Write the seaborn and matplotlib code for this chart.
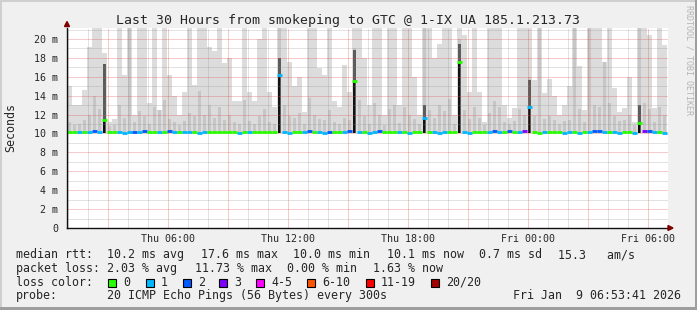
import numpy as np
import matplotlib
matplotlib.use("Agg")
import matplotlib.pyplot as plt
import seaborn as sns
from matplotlib.patches import Rectangle, Polygon
from matplotlib.collections import LineCollection

# ---------------- data ----------------
F = 25.0  # smoke going off the top of the chart
start_hour = 0.95      # Thu 00:57
step_hours = 0.25      # one column = 15 minutes

smoke_max = [
    15.0, 13.0, 13.0, 14.6, 19.2, F, F, 18.5, 11.2, 11.5,
    F, 16.2, F, 12.0, F, F, 13.2, F, 12.5, F,
    16.2, 14.0, 12.0, 14.4, F, 15.1, F, F, 19.2, 18.7,
    F, 17.5, 18.0, 13.4, 13.4, F, 14.4, 13.4, 20.0, F,
    14.4, 12.8, F, F, 17.6, 15.0, 16.0, 12.3, F, F,
    16.9, 16.2, F, 13.4, 12.8, 17.2, 14.4, F, F, 18.0,
    13.0, F, F, 12.0, F, F, 13.0, F, F, 16.0,
    12.0, F, F, 18.0, 19.5, F, F, 12.0, F, 20.4,
    14.4, F, 14.4, 11.2, F, F, F, 13.0, 11.6, 12.7,
    F, F, F, 15.7, F, 14.3, 15.8, 14.0, 12.0, 13.0,
    15.0, F, 17.1, 12.5, F, F, F, 17.6, F, 14.8,
    12.3, 12.7, 16.0, 11.2, F, F, 20.4, 12.7, F, 19.4,
]

smoke_mid = [
    11.2, 10.9, 11.0, 11.4, 12.0, 14.0, 12.6, 16.0, 10.8, 10.9,
    13.0, 11.6, F, 11.2, 12.4, 11.8, 11.0, 12.8, 12.5, 13.5,
    11.5, 11.2, 10.9, 11.3, 12.2, 11.8, 14.5, 12.0, 13.0, 11.6,
    12.8, 11.4, 12.0, 11.2, 11.0, 13.5, 11.3, 11.0, 11.8, 12.6,
    11.2, 11.0, F, 13.0, 11.8, 11.6, 12.2, 11.0, 13.8, 12.0,
    11.5, 11.4, 12.5, 11.2, 11.0, 11.6, 11.4, 19.0, 13.5, 11.8,
    11.0, 13.2, 12.0, 10.9, 12.6, 13.0, 11.1, 12.8, 12.0, 11.5,
    11.0, F, 12.5, 11.6, 13.0, 12.4, 13.6, 11.0, 20.0, 12.5,
    11.5, 12.8, 11.6, 10.9, 12.2, 13.4, 12.8, 11.2, 11.0, 11.3,
    12.6, 12.0, 16.0, 11.8, F, 11.5, 11.8, 11.4, 11.0, 11.3,
    11.4, F, 12.6, 11.2, F, 13.0, 12.8, 17.6, 13.2, 11.8,
    11.3, 11.4, 12.0, 10.9, F, 13.2, 12.6, 11.2, 12.8, 12.0,
]

median_rtt = [
    10.2, 10.2, 10.2, 10.2, 10.2, 10.3, 10.2, 11.4, 10.2, 10.2,
    10.2, 10.1, 10.2, 10.2, 10.2, 10.3, 10.2, 10.2, 10.2, 10.2,
    10.3, 10.2, 10.2, 10.2, 10.2, 10.2, 10.1, 10.2, 10.2, 10.2,
    10.2, 10.2, 10.2, 10.2, 10.1, 10.2, 10.2, 10.2, 10.2, 10.2,
    10.2, 10.2, 16.2, 10.2, 10.1, 10.2, 10.2, 10.2, 10.3, 10.2,
    10.2, 10.1, 10.2, 10.2, 10.2, 10.2, 10.3, 15.6, 10.2, 10.2,
    10.1, 10.2, 10.3, 10.2, 10.2, 10.2, 10.2, 10.2, 10.1, 10.2,
    10.2, 11.6, 10.2, 10.2, 10.1, 10.2, 10.2, 10.2, 17.6, 10.2,
    10.1, 10.2, 10.2, 10.2, 10.2, 10.3, 10.2, 10.2, 10.3, 10.2,
    10.2, 10.3, 12.8, 10.2, 10.1, 10.2, 10.2, 10.2, 10.2, 10.1,
    10.2, 10.2, 10.1, 10.2, 10.2, 10.3, 10.3, 10.2, 10.2, 10.2,
    10.1, 10.2, 10.2, 10.1, 11.1, 10.3, 10.3, 10.2, 10.2, 10.1,
]

loss_cat = [
    0, 0, 1, 0, 1, 2, 1, 0, 0, 0,
    1, 1, 1, 2, 1, 2, 0, 0, 1, 0,
    2, 1, 0, 1, 1, 0, 1, 1, 0, 0,
    0, 0, 0, 0, 1, 0, 1, 0, 0, 0,
    0, 0, 1, 1, 1, 0, 0, 1, 2, 0,
    1, 1, 2, 0, 0, 1, 2, 0, 1, 0,
    1, 1, 2, 0, 0, 0, 1, 0, 1, 0,
    0, 1, 0, 1, 1, 1, 0, 0, 0, 1,
    1, 0, 0, 0, 1, 2, 1, 0, 2, 0,
    1, 3, 1, 0, 0, 1, 0, 0, 0, 1,
    1, 0, 1, 0, 1, 2, 2, 1, 0, 1,
    1, 0, 0, 1, 0, 3, 2, 1, 0, 1,
]

spike_cols = [7, 42, 57, 71, 78, 92, 114]
spike_dark_top = [17.4, 18.0, 18.8, 13.0, 19.5, 15.7, 13.0]

loss_labels = ["0", "1", "2", "3", "4-5", "6-10", "11-19", "20/20"]
loss_colors = ["#26ff00", "#00b8ff", "#0059ff", "#7e00ff",
               "#ff00ff", "#ff5500", "#ff0000", "#a10000"]

xtick_hours = [6, 12, 18, 24, 30]
xtick_labels = ["Thu 06:00", "Thu 12:00", "Thu 18:00", "Fri 00:00", "Fri 06:00"]
ytick_vals = [0, 2, 4, 6, 8, 10, 12, 14, 16, 18, 20]
ytick_labels = ["0", "2 m", "4 m", "6 m", "8 m", "10 m", "12 m", "14 m",
                "16 m", "18 m", "20 m"]

title = "Last 30 Hours from smokeping to GTC @ 1-IX UA 185.1.213.73"
legend_rows = [
    [("median rtt:", 16), ("10.2 ms avg", 107.3), ("17.6 ms max", 200.7),
     ("10.0 ms min", 293.3), ("10.1 ms now", 386.7), ("0.7 ms sd", 479.3),
     ("15.3   am/s", 558.3)],
    [("packet loss:", 16), ("2.03 % avg", 107.3), ("11.73 % max", 195.0),
     ("0.00 % min", 287.0), ("1.63 % now", 373.3)],
    [("loss color:", 16)],
    [("probe:", 16), ("20 ICMP Echo Pings (56 Bytes) every 300s", 107.3)],
]
timestamp = "Fri Jan  9 06:53:41 2026"

# ---------------- figure ----------------
W, H = 697, 310
sns.set_theme(style="white")
plt.rcParams['font.family'] = ['DejaVu Sans Mono', 'DejaVu Sans']

fig = plt.figure(figsize=(W / 100, H / 100), dpi=100, facecolor="#f0f0f0")

def fx(x):
    return x / W

def fy(y):
    return 1 - y / H

ax_left, ax_right, ax_top, ax_bot = 67, 668, 28, 228
ax = fig.add_axes([fx(ax_left), fy(ax_bot), (ax_right - ax_left) / W,
                   (ax_bot - ax_top) / H])
ax.set_facecolor("white")

n = len(smoke_max)
t = start_hour + step_hours * np.arange(n)
smoke_max = np.array(smoke_max)
smoke_mid = np.array(smoke_mid)
median_rtt = np.array(median_rtt)
base = 10.0

ax.bar(t, smoke_max - base, bottom=base, width=step_hours, align="edge",
       color="#dcdcdc", linewidth=0, zorder=1)
ax.bar(t + 0.04, smoke_mid - base, bottom=base, width=step_hours - 0.08,
       align="edge", color="#c6c6c6", linewidth=0, zorder=2)
sc = np.array(spike_cols)
ax.bar(t[sc] + 0.04, np.array(spike_dark_top) - base, bottom=base,
       width=step_hours - 0.1, align="edge", color="#5c5c5c", linewidth=0,
       zorder=3)
ax.bar(t[sc] + 0.07, median_rtt[sc] - base, bottom=base,
       width=step_hours - 0.15, align="edge", color="#111111", linewidth=0,
       zorder=4)

# grid (drawn over the smoke, like rrdtool)
for h in range(1, 32):
    major = (h % 3 == 0)
    ax.axvline(h, color="#de5050" if major else "#8f8f8f",
               alpha=0.6 if major else 0.5, lw=0.72, ls=(0, (1, 1)), zorder=5)
for v in range(1, 22):
    major = (v % 2 == 0)
    ax.axhline(v, color="#de5050" if major else "#8f8f8f",
               alpha=0.6 if major else 0.5, lw=0.72, ls=(0, (1, 1)), zorder=5)

# median line, coloured by loss
segs = [[(t[k], median_rtt[k]), (t[k] + step_hours, median_rtt[k])] for k in range(n)]
cols = [loss_colors[c] for c in loss_cat]
ax.add_collection(LineCollection(segs, colors=cols, linewidths=2.0,
                                 capstyle="butt", zorder=6))

ax.set_xlim(0.95, 31.0)
ax.set_ylim(0, 21.16)
ax.set_xticks(xtick_hours, xtick_labels)
ax.set_xticks(range(1, 31), minor=True)
ax.set_yticks(ytick_vals, ytick_labels)
ax.tick_params(axis="both", which="major", labelsize=7.2, length=2.5,
               width=0.72, color="#de5050", direction="out")
ax.tick_params(axis="x", which="major", pad=2.0)
ax.tick_params(axis="y", which="major", pad=4.0)
ax.tick_params(axis="x", which="minor", length=2.0, width=0.72,
               color="#b0b0b0", direction="out")
for s in ["top", "right"]:
    ax.spines[s].set_visible(False)
for s in ["left", "bottom"]:
    ax.spines[s].set_color("#101010")
    ax.spines[s].set_linewidth(1.0)
    ax.spines[s].set_zorder(7)

# arrows
arrow_col = "#7f0000"
fig.patches.append(Polygon([(fx(64.5), fy(26.5)), (fx(69.5), fy(26.5)), (fx(67), fy(21.5))],
                           closed=True, transform=fig.transFigure, color=arrow_col))
fig.patches.append(Polygon([(fx(668), fy(225.5)), (fx(668), fy(230.5)), (fx(673), fy(228))],
                           closed=True, transform=fig.transFigure, color=arrow_col))

# texts
fig.text(fx(347.5), fy(24.3), title, ha="center", va="baseline", fontsize=9.55)
fig.text(fx(10.5), fy(128), "Seconds", rotation=90, ha="center", va="center",
         fontsize=8.4)
fig.text(fx(688.5), fy(60), "RRDTOOL / TOBI OETIKER", rotation=270,
         ha="center", va="center", fontsize=6.0, color="#b4b4b4")

baselines = [258.3, 271.9, 285.5, 299.2]
for row, yb in zip(legend_rows, baselines):
    for txt, x in row:
        fig.text(fx(x), fy(yb), txt, ha="left", va="baseline", fontsize=8.4)
fig.text(fx(681), fy(baselines[3]), timestamp, ha="right", va="baseline",
         fontsize=8.4)

box_x = [108.3, 145.7, 182.7, 219.3, 256.0, 307.3, 366.0, 430.7]
for bx, lab, col in zip(box_x, loss_labels, loss_colors):
    fig.patches.append(Rectangle((fx(bx), fy(286.7)), 8 / W, 8 / H,
                                 transform=fig.transFigure, facecolor=col,
                                 edgecolor="black", linewidth=0.8))
    fig.text(fx(bx + 15), fy(baselines[2]), lab, ha="left", va="baseline",
             fontsize=8.4)

# border shading
fig.patches.append(Rectangle((0, 0), 2 / W, 1, transform=fig.transFigure,
                             facecolor="#cfcfcf", linewidth=0))
fig.patches.append(Rectangle((0, fy(2)), 1, 2 / H, transform=fig.transFigure,
                             facecolor="#cfcfcf", linewidth=0))
fig.patches.append(Rectangle((fx(694.5), 0), 2.5 / W, 1, transform=fig.transFigure,
                             facecolor="#9e9e9e", linewidth=0))
fig.patches.append(Rectangle((0, 0), 1, 3 / H, transform=fig.transFigure,
                             facecolor="#9e9e9e", linewidth=0))

fig.savefig("out.png", dpi=100, facecolor=fig.get_facecolor())
